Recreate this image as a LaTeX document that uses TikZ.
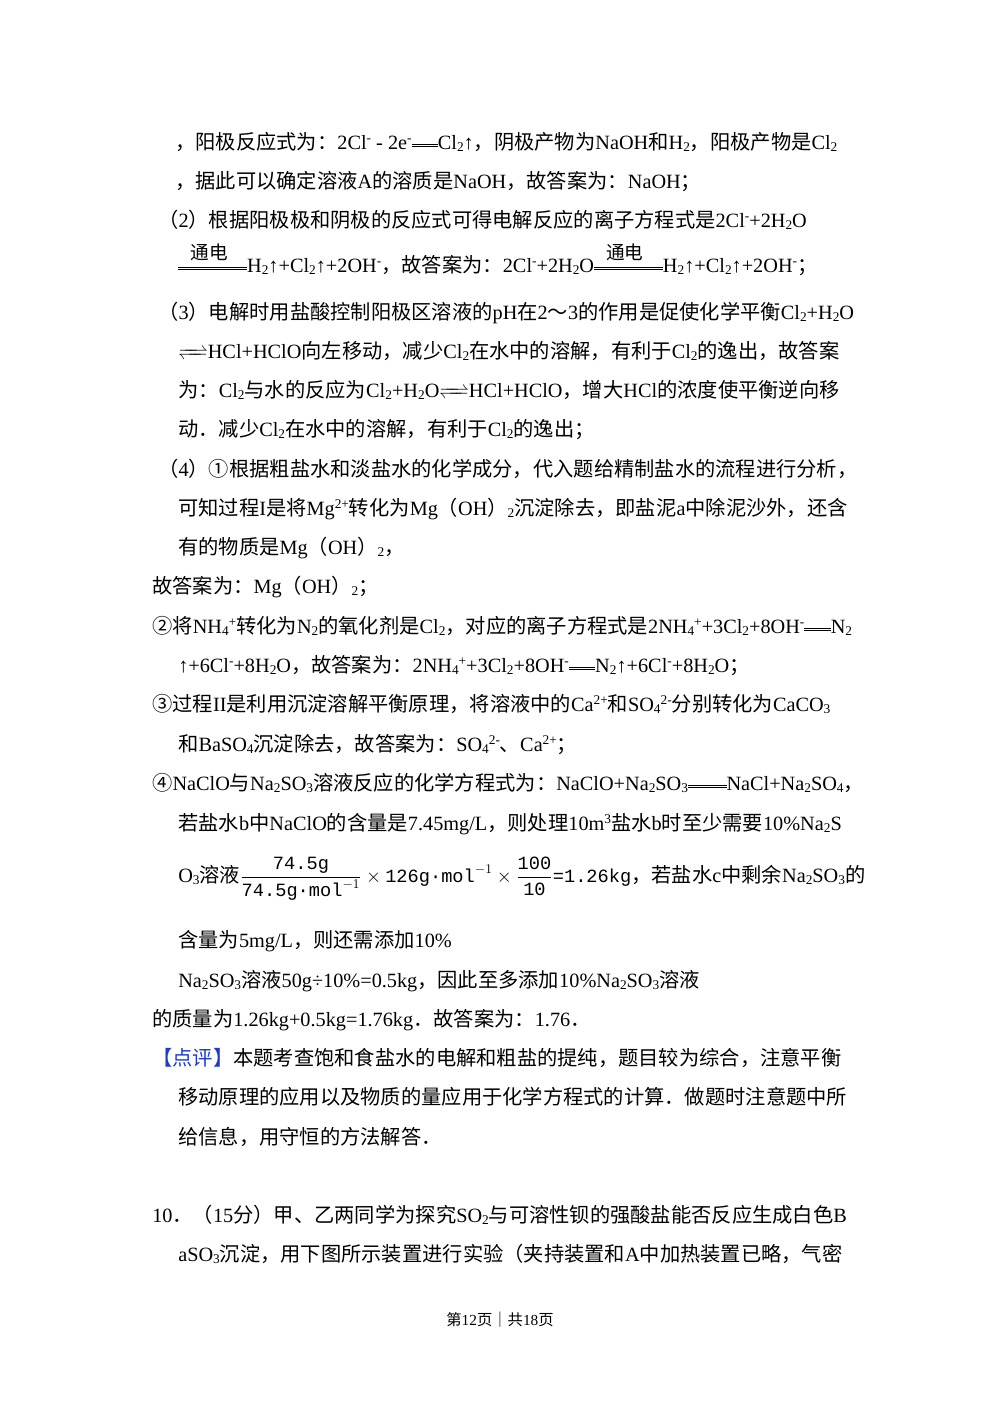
\documentclass[tikz,border=0pt]{standalone}
\usepackage{amsmath,mathtools}
\usepackage{fontspec}
\setmainfont{Liberation Serif}
\newfontfamily\cjk{Noto Sans CJK SC}
\newfontfamily\monof{Liberation Mono}
\XeTeXinterchartokenstate=1
\newXeTeXintercharclass\cjkclass
\count255="3000 \loop \XeTeXcharclass\count255=\cjkclass \ifnum\count255<"9FFF \advance\count255 1 \repeat
\count255="FF00 \loop \XeTeXcharclass\count255=\cjkclass \ifnum\count255<"FFEF \advance\count255 1 \repeat
\count255="2460 \loop \XeTeXcharclass\count255=\cjkclass \ifnum\count255<"2473 \advance\count255 1 \repeat
\XeTeXinterchartoks 0 \cjkclass = {\begingroup\cjk}
\XeTeXinterchartoks 4095 \cjkclass = {\begingroup\cjk}
\XeTeXinterchartoks \cjkclass 0 = {\endgroup}
\XeTeXinterchartoks \cjkclass 4095 = {\endgroup}
\newcommand\sbs[1]{\raisebox{-0.3ex}{\fontsize{10}{10}\selectfont #1}}
\newcommand\sps[1]{\raisebox{0.7ex}{\fontsize{10}{10}\selectfont #1}}
\newcommand\dbl[1]{\makebox[0pt][l]{\raisebox{0.22ex}{\rule{#1}{0.45pt}}}\raisebox{0.5ex}{\rule{#1}{0.45pt}}}
\newcommand\eqq{\dbl{1.3em}}
\newcommand\eqqL{\dbl{1.9em}}
\newcommand\td{\makebox[0pt][l]{\raisebox{1.35ex}{\hspace{0.6em}\fontsize{14}{14}\selectfont 通电}}\dbl{3.4em}}
\newcommand\rev{\raisebox{0.1ex}{$\xrightleftharpoons{\hspace{0.9em}}$}}
\begin{document}
\begin{tikzpicture}[x=0.75pt,y=-0.75pt,
  ln/.style={anchor=base west,inner sep=0pt,font=\fontsize{15.2}{15.2}\selectfont}]
\fill[white] (0,0) rectangle (1000,1414);
\node[ln] (l1) at (175,149) {，阳极反应式为：2Cl\sps{-} - 2e\sps{-}\eqq Cl\sbs{2}↑，阴极产物为NaOH和H\sbs{2}，阳极产物是Cl\sbs{2}};
\node[ln] (l2) at (175,188) {，据此可以确定溶液A的溶质是NaOH，故答案为：NaOH；};
\node[ln] (l3) at (158,227) {（2）根据阳极极和阴极的反应式可得电解反应的离子方程式是2Cl\sps{-}+2H\sbs{2}O};
\node[ln] (l4) at (178,272) {\td H\sbs{2}↑+Cl\sbs{2}↑+2OH\sps{-}，故答案为：2Cl\sps{-}+2H\sbs{2}O\td H\sbs{2}↑+Cl\sbs{2}↑+2OH\sps{-}；};
\node[ln] (l5) at (158,319) {（3）电解时用盐酸控制阳极区溶液的pH在2～3的作用是促使化学平衡Cl\sbs{2}+H\sbs{2}O};
\node[ln] (l6) at (178,358) {\rev HCl+HClO向左移动，减少Cl\sbs{2}在水中的溶解，有利于Cl\sbs{2}的逸出，故答案};
\node[ln] (l7) at (178,397) {为：Cl\sbs{2}与水的反应为Cl\sbs{2}+H\sbs{2}O\rev HCl+HClO，增大HCl的浓度使平衡逆向移};
\node[ln] (l8) at (178,436) {动．减少Cl\sbs{2}在水中的溶解，有利于Cl\sbs{2}的逸出；};
\node[ln] (l9) at (158,476) {（4）①根据粗盐水和淡盐水的化学成分，代入题给精制盐水的流程进行分析，};
\node[ln] (l10) at (178,515) {可知过程I是将Mg\sps{2+}转化为Mg（OH）\sbs{2}沉淀除去，即盐泥a中除泥沙外，还含};
\node[ln] (l11) at (178,554) {有的物质是Mg（OH）\sbs{2}，};
\node[ln] (l12) at (152,593) {故答案为：Mg（OH）\sbs{2}；};
\node[ln] (l13) at (152,633) {②将NH\sbs{4}\sps{+}转化为N\sbs{2}的氧化剂是Cl\sbs{2}，对应的离子方程式是2NH\sbs{4}\sps{+}+3Cl\sbs{2}+8OH\sps{-}\eqq N\sbs{2}};
\node[ln] (l14) at (178,672) {↑+6Cl\sps{-}+8H\sbs{2}O，故答案为：2NH\sbs{4}\sps{+}+3Cl\sbs{2}+8OH\sps{-}\eqq N\sbs{2}↑+6Cl\sps{-}+8H\sbs{2}O；};
\node[ln] (l15) at (152,711) {③过程II是利用沉淀溶解平衡原理，将溶液中的Ca\sps{2+}和SO\sbs{4}\sps{2-}分别转化为CaCO\sbs{3}};
\node[ln] (l16) at (178,751) {和BaSO\sbs{4}沉淀除去，故答案为：SO\sbs{4}\sps{2-}、Ca\sps{2+}；};
\node[ln] (l17) at (152,790) {④NaClO与Na\sbs{2}SO\sbs{3}溶液反应的化学方程式为：NaClO+Na\sbs{2}SO\sbs{3}\eqqL NaCl+Na\sbs{2}SO\sbs{4}，};
\node[ln] (l18) at (178,830) {若盐水b中NaClO的含量是7.45mg/L，则处理10m\sps{3}盐水b时至少需要10\%Na\sbs{2}S};
\node[ln] (l19) at (178,882) {O\sbs{3}溶液{\monof\fontsize{14}{14}\selectfont$\dfrac{\text{74.5g}}{\text{74.5g·mol}^{-1}}\times\text{126g·mol}^{-1}\times\dfrac{\text{100}}{\text{10}}$=1.26kg}，若盐水c中剩余Na\sbs{2}SO\sbs{3}的};
\node[ln] (l20) at (178,947) {含量为5mg/L，则还需添加10\%};
\node[ln] (l21) at (178,987) {Na\sbs{2}SO\sbs{3}溶液50g÷10\%=0.5kg，因此至多添加10\%Na\sbs{2}SO\sbs{3}溶液};
\node[ln] (l22) at (152,1026) {的质量为1.26kg+0.5kg=1.76kg．故答案为：1.76．};
\node[ln] (l23) at (152,1065) {\textcolor[RGB]{30,60,200}{【点评】}本题考查饱和食盐水的电解和粗盐的提纯，题目较为综合，注意平衡};
\node[ln] (l24) at (178,1104) {移动原理的应用以及物质的量应用于化学方程式的计算．做题时注意题中所};
\node[ln] (l25) at (178,1144) {给信息，用守恒的方法解答．};
\node[ln] (l26) at (152,1222) {10．（15分）甲、乙两同学为探究SO\sbs{2}与可溶性钡的强酸盐能否反应生成白色B};
\node[ln] (l27) at (178,1261) {aSO\sbs{3}沉淀，用下图所示装置进行实验（夹持装置和A中加热装置已略，气密};
\node[anchor=base,inner sep=0pt,font=\fontsize{11.5}{11.5}\selectfont] (ft) at (500,1325) {第12页｜共18页};
\end{tikzpicture}
\end{document}
